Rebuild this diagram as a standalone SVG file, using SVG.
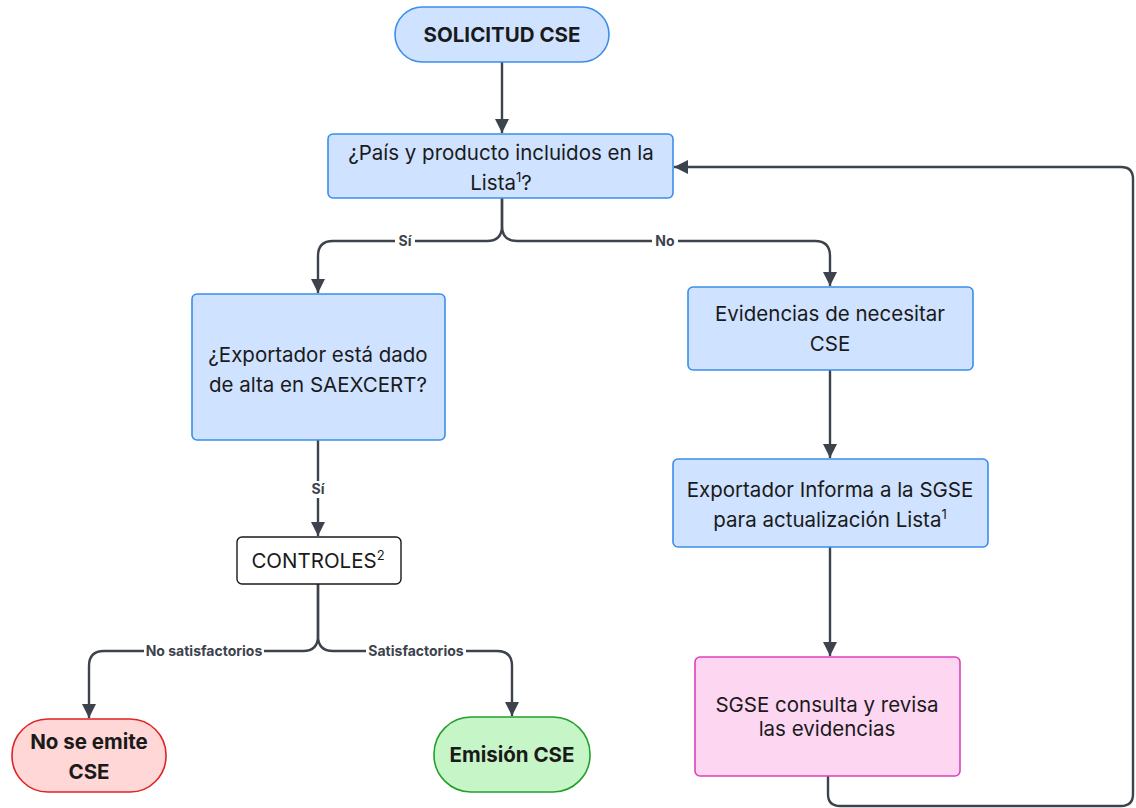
<svg xmlns="http://www.w3.org/2000/svg" width="1136" height="808" viewBox="0 0 1136 808">
<style>
.blue{fill:#cfe2ff;stroke:#3b8eea;stroke-width:1.6}
.t{font-family:Inter,"Liberation Sans",sans-serif;font-size:20.5px;fill:#1a1a1a;text-anchor:middle}
.b{font-weight:bold;font-size:20.5px}
.e{fill:none;stroke:#3d434c;stroke-width:2.4}
.lb{font-family:Inter,"Liberation Sans",sans-serif;font-size:14px;font-weight:bold;fill:#3d434c;text-anchor:middle}
.sup{font-size:13px}
</style>
<defs>
<marker id="ah" markerUnits="userSpaceOnUse" markerWidth="16" markerHeight="16" viewBox="0 0 16 16" refX="15" refY="8" orient="auto">
<path d="M1,1 L15,8 L1,15 z" fill="#3d434c"/>
</marker>
</defs>
<rect width="1136" height="808" fill="#fff"/>
<g id="connectors">
<path class="e" d="M502,62 V133" marker-end="url(#ah)"/>
<path class="e" d="M502,198 V226 Q502,241 487,241 H333 Q318,241 318,256 V293" marker-end="url(#ah)"/>
<path class="e" d="M502,198 V226 Q502,241 517,241 H815 Q830,241 830,256 V286" marker-end="url(#ah)"/>
<path class="e" d="M318,440 V536" marker-end="url(#ah)"/>
<path class="e" d="M830,370 V458" marker-end="url(#ah)"/>
<path class="e" d="M830,547 V656" marker-end="url(#ah)"/>
<path class="e" d="M828,776 V794 Q828,806 840,806 H1121 Q1133,806 1133,794 V179 Q1133,167 1121,167 H674" marker-end="url(#ah)"/>
<path class="e" d="M318,584 V636 Q318,651 303,651 H104 Q89,651 89,666 V718" marker-end="url(#ah)"/>
<path class="e" d="M318,584 V636 Q318,651 333,651 H497 Q512,651 512,666 V716" marker-end="url(#ah)"/>
<rect x="395" y="233" width="20" height="17" fill="#fff"/>
<text class="lb" x="405" y="246">Sí</text>
<rect x="652" y="233" width="26" height="17" fill="#fff"/>
<text class="lb" x="665" y="246">No</text>
<rect x="308" y="481" width="20" height="17" fill="#fff"/>
<text class="lb" x="318" y="494">Sí</text>
<rect x="144" y="643" width="120" height="17" fill="#fff"/>
<text class="lb" x="204" y="656">No satisfactorios</text>
<rect x="366" y="643" width="100" height="17" fill="#fff"/>
<text class="lb" x="416" y="656">Satisfactorios</text>
</g>
<g id="n_solicitud">
<rect class="blue" x="395" y="7" width="214" height="55" rx="27.5"/>
<text class="t b" x="502" y="42">SOLICITUD CSE</text>
</g>
<g id="n_pais">
<rect class="blue" x="328" y="134" width="345" height="64" rx="5"/>
<text class="t" x="501" y="160">¿País y producto incluidos en la</text>
<text class="t" x="501" y="190">Lista<tspan class="sup" dy="-8">1</tspan><tspan dy="8">?</tspan></text>
</g>
<g id="n_exportador">
<rect class="blue" x="192" y="294" width="253" height="146" rx="5"/>
<text class="t" x="318" y="362">¿Exportador está dado</text>
<text class="t" x="318" y="392">de alta en SAEXCERT?</text>
</g>
<g id="n_evidencias">
<rect class="blue" x="688" y="287" width="285" height="83" rx="5"/>
<text class="t" x="830" y="321">Evidencias de necesitar</text>
<text class="t" x="830" y="351">CSE</text>
</g>
<g id="n_informa">
<rect class="blue" x="673" y="459" width="315" height="88" rx="5"/>
<text class="t" x="830" y="497">Exportador Informa a la SGSE</text>
<text class="t" x="830" y="527">para actualización Lista<tspan class="sup" dy="-8">1</tspan></text>
</g>
<g id="n_sgse">
<rect x="695" y="657" width="265" height="119" rx="5" fill="#fdd6f2" stroke="#e040b8" stroke-width="1.6"/>
<text class="t" x="827" y="712">SGSE consulta y revisa</text>
<text class="t" x="827" y="736">las evidencias</text>
</g>
<g id="n_controles">
<rect x="237" y="537" width="164" height="47" rx="5" fill="#fff" stroke="#1a1a1a" stroke-width="1.4"/>
<text class="t" x="318" y="568">CONTROLES<tspan class="sup" dy="-8">2</tspan></text>
</g>
<g id="n_noemite">
<rect x="12" y="719" width="154" height="73" rx="36" fill="#ffd7d7" stroke="#e02424" stroke-width="1.6"/>
<text class="t b" x="89" y="749">No se emite</text>
<text class="t b" x="89" y="779">CSE</text>
</g>
<g id="n_emision">
<rect x="434" y="717" width="156" height="75" rx="37" fill="#c6f5c8" stroke="#22a02a" stroke-width="1.6"/>
<text class="t b" x="512" y="762">Emisión CSE</text>
</g>
</svg>
